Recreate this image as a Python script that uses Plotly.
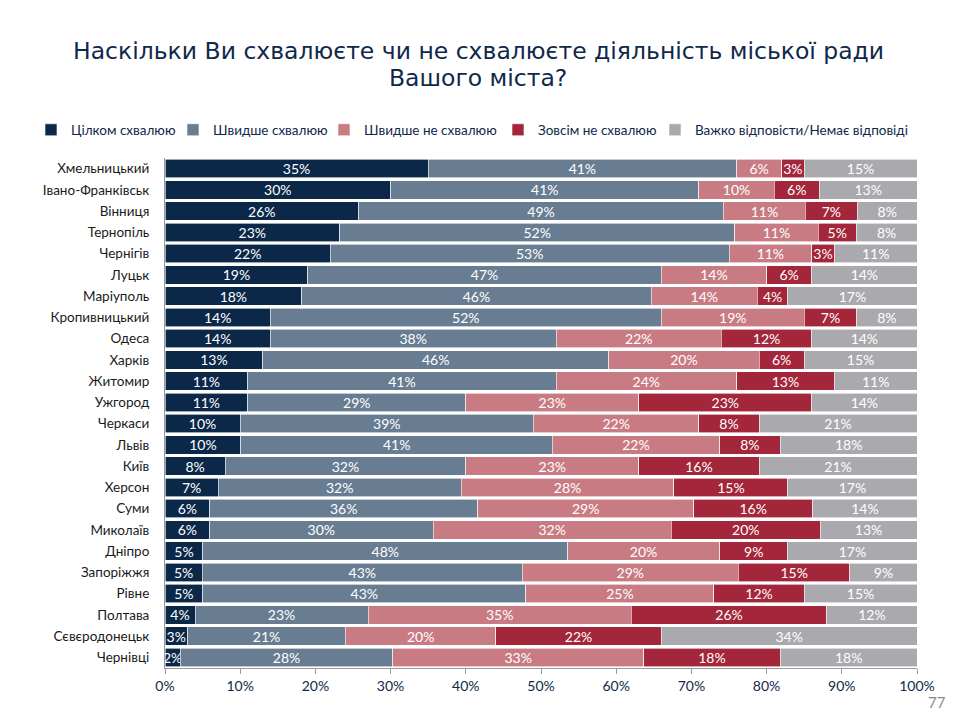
import plotly.graph_objects as go

cities = ["Хмельницький", "Івано-Франківськ", "Вінниця", "Тернопіль", "Чернігів", "Луцьк",
          "Маріуполь", "Кропивницький", "Одеса", "Харків", "Житомир", "Ужгород", "Черкаси",
          "Львів", "Київ", "Херсон", "Суми", "Миколаїв", "Дніпро", "Запоріжжя", "Рівне",
          "Полтава", "Сєвєродонецьк", "Чернівці"]

series_names = ["Цілком схвалюю", "Швидше схвалюю", "Швидше не схвалюю",
                "Зовсім не схвалюю", "Важко відповісти/Немає відповіді"]

fully_approve = [35, 30, 26, 23, 22, 19, 18, 14, 14, 13, 11, 11, 10, 10, 8, 7, 6, 6, 5, 5, 5, 4, 3, 2]
rather_approve = [41, 41, 49, 52, 53, 47, 46, 52, 38, 46, 41, 29, 39, 41, 32, 32, 36, 30, 48, 43, 43, 23, 21, 28]
rather_disapprove = [6, 10, 11, 11, 11, 14, 14, 19, 22, 20, 24, 23, 22, 22, 23, 28, 29, 32, 20, 29, 25, 35, 20, 33]
fully_disapprove = [3, 6, 7, 5, 3, 6, 4, 7, 12, 6, 13, 23, 8, 8, 16, 15, 16, 20, 9, 15, 12, 26, 22, 18]
hard_to_say = [15, 13, 8, 8, 11, 14, 17, 8, 14, 15, 11, 14, 21, 18, 21, 17, 14, 13, 17, 9, 15, 12, 34, 18]

x_ticks = [0, 10, 20, 30, 40, 50, 60, 70, 80, 90, 100]
x_tick_labels = ["0%", "10%", "20%", "30%", "40%", "50%", "60%", "70%", "80%", "90%", "100%"]

title_lines = ["Наскільки Ви схвалюєте чи не схвалюєте діяльність міської ради", "Вашого міста?"]
page_number = "77"

colors = ["#0b2849", "#687d92", "#c97b84", "#a3263a", "#a9a9ae"]
all_series = [fully_approve, rather_approve, rather_disapprove, fully_disapprove, hard_to_say]

FONT = "Lato, Liberation Sans, sans-serif"
TITLE_FONT = "DejaVu Sans, sans-serif"

# page has an 8px body margin; size the figure so it fits the 953x717 window
OFF = 8
W, H = 945, 709
L, R, T, B = 157, 36, 150, 49
pw, ph = W - L - R, H - T - B


def px_x(x_page):
    return (x_page - OFF - L) / pw


def px_y(y_page):
    return (T + ph - (y_page - OFF)) / ph


legend_ids = ["legend", "legend2", "legend3", "legend4", "legend5"]
# left edge of each legend box (page px)
legend_box_x = [31, 173, 324, 498, 655]

fig = go.Figure()
for name, vals, col, lid in zip(series_names, all_series, colors, legend_ids):
    fig.add_trace(go.Bar(
        y=cities, x=vals, name=name, orientation="h", legend=lid,
        marker=dict(color=col, line=dict(color="white", width=0.6)),
        text=[f"{v}%" for v in vals], textposition="inside",
        insidetextanchor="middle", textangle=0,
        textfont=dict(color="white", size=14, family=FONT),
        hoverinfo="x+y+name",
    ))

annotations = []
for i, line in enumerate(title_lines):
    yc = 51 + 27 * i
    annotations.append(dict(text=line, xref="paper", x=px_x(478), xanchor="center",
                            yref="paper", y=px_y(yc), yanchor="middle",
                            showarrow=False,
                            font=dict(family=TITLE_FONT, size=23.5, color="#10284a")))
annotations.append(dict(text=page_number, xref="paper", x=px_x(937), xanchor="center",
                        yref="paper", y=px_y(702), yanchor="middle",
                        showarrow=False, font=dict(family=FONT, size=15, color="#888888")))

legend_layouts = {}
for lid, bx in zip(legend_ids, legend_box_x):
    legend_layouts[lid] = dict(
        orientation="h", x=px_x(bx), xanchor="left", xref="paper",
        y=px_y(130), yanchor="middle", yref="paper",
        font=dict(family=FONT, size=13.5, color="#10284a"),
        itemwidth=30, bgcolor="rgba(0,0,0,0)",
    )

fig.update_layout(
    barmode="stack", barnorm="percent", bargap=0.14,
    width=W, height=H,
    margin=dict(l=L, r=R, t=T, b=B, autoexpand=False),
    paper_bgcolor="white", plot_bgcolor="white",
    uniformtext=dict(minsize=14, mode="show"),
    showlegend=True,
    annotations=annotations,
    **legend_layouts,
)

fig.update_xaxes(range=[0, 100], tickvals=x_ticks, ticktext=x_tick_labels,
                 showgrid=False, zeroline=False, showline=True, linecolor="#9a9a9a",
                 linewidth=1, ticks="outside", ticklen=5, tickcolor="#9a9a9a",
                 tickfont=dict(family=FONT, size=14, color="#10284a"))
fig.update_yaxes(autorange="reversed", showgrid=False, showline=True, linecolor="#9a9a9a",
                 linewidth=1, ticks="", ticklabelstandoff=12,
                 tickfont=dict(family=FONT, size=13.5, color="#1a1a1a"))

fig.write_html("out.html")
